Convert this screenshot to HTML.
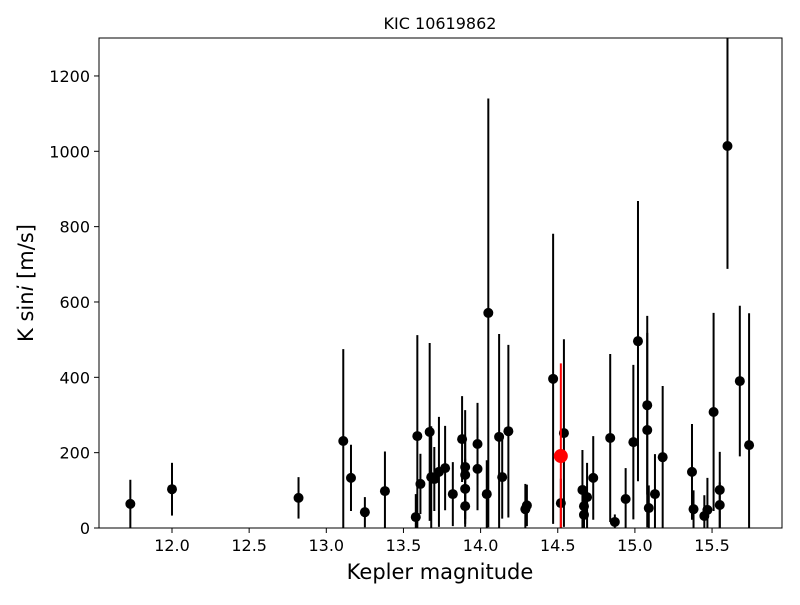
<!DOCTYPE html>
<html><head><meta charset="utf-8"><style>
body{margin:0;background:#fff;font-family:"Liberation Sans","DejaVu Sans",sans-serif}
</style></head><body>
<svg id="chart" width="800" height="600" xmlns="http://www.w3.org/2000/svg" font-family="DejaVu Sans, Liberation Sans, sans-serif">
<defs><clipPath id="pc"><rect x="99" y="38" width="683" height="490"/></clipPath></defs>
<rect width="800" height="600" fill="#fff"/>
<text x="440" y="29" text-anchor="middle" font-size="16">KIC 10619862</text>
<g id="marks" clip-path="url(#pc)"></g>
<g id="axes"></g>
<rect x="99" y="38" width="683" height="490" fill="none" stroke="#000" stroke-width="1"/>
<text x="440" y="579" text-anchor="middle" font-size="21">Kepler magnitude</text>
<text transform="translate(33,283) rotate(-90)" text-anchor="middle" font-size="21">K sin<tspan font-style="italic">i</tspan> [m/s]</text>
</svg>
<script>
const mags=[11.73,12.0,12.82,13.11,13.16,13.25,13.38,13.58,13.59,13.61,13.67,13.68,13.70,13.73,13.77,13.82,13.88,13.90,13.90,13.90,13.90,13.98,13.98,14.05,14.04,14.12,14.14,14.18,14.29,14.30,14.47,14.54,14.52,14.66,14.69,14.67,14.67,14.73,14.84,14.87,14.94,14.99,15.02,15.08,15.08,15.09,15.13,15.18,15.37,15.38,15.45,15.47,15.51,15.55,15.55,15.60,15.68,15.74];
const ksini=[64,103,80,231,133,42,98,29,244,117,255,135,130,149,159,90,236,162,141,104,58,223,157,571,90,242,135,257,50,60,396,252,66,101,82,58,35,133,239,16,77,228,496,326,260,53,90,188,149,50,32,48,308,101,61,1014,390,220];
const errs=[64,70,55,244,88,40,105,61,268,80,236,135,85,146,112,85,114,151,100,80,55,109,110,569,90,273,110,229,67,55,385,249,65,106,91,55,35,111,223,20,82,205,372,237,258,60,106,189,127,50,55,85,263,101,60,326,200,350];
const targetMag=[14.52];
const targetK=[191];
const targetErr=[246];
const xTicks=[12.0,12.5,13.0,13.5,14.0,14.5,15.0,15.5];
const yTicks=[0,200,400,600,800,1000,1200];
const NS="http://www.w3.org/2000/svg";
const X=v=>172+(v-12)*154.3;
const Y=v=>528-v*0.3767;
const marks=document.getElementById('marks'),axes=document.getElementById('axes');
function mk(t,a,p){const e=document.createElementNS(NS,t);for(const k in a)e.setAttribute(k,a[k]);p.appendChild(e);return e;}
mags.forEach((m,i)=>{
 const l=mk('line',{x1:X(m),x2:X(m),y1:Y(ksini[i]-errs[i]),y2:Y(ksini[i]+errs[i]),stroke:'#000','stroke-width':2},marks);
 
 
});
mags.forEach((m,i)=>{
 const c=mk('circle',{cx:X(m),cy:Y(ksini[i]),r:5,fill:'#000'},marks);
 
 
});
targetMag.forEach((m,i)=>{
 const l=mk('line',{x1:X(m),x2:X(m),y1:Y(targetK[i]-targetErr[i]),y2:Y(targetK[i]+targetErr[i]),stroke:'#f00','stroke-width':2},marks);
 
 
 const c=mk('circle',{cx:X(m),cy:Y(targetK[i]),r:7,fill:'#f00'},marks);
 
 
});
xTicks.forEach(t=>{
 const l=mk('line',{x1:X(t),x2:X(t),y1:528,y2:533,stroke:'#000'},axes);
 
 
 const tx=mk('text',{x:X(t),y:551,'text-anchor':'middle','font-size':16},axes);
 tx.textContent=t.toFixed(1);
 
 
});
yTicks.forEach(t=>{
 const l=mk('line',{x1:94,x2:99,y1:Y(t),y2:Y(t),stroke:'#000'},axes);
 
 
 const tx=mk('text',{x:90,y:Y(t)+6,'text-anchor':'end','font-size':16},axes);
 tx.textContent=t;
 
 
});
</script>
</body></html>
